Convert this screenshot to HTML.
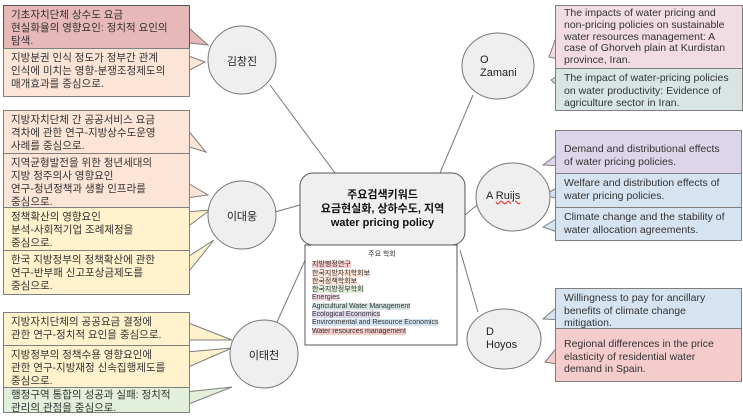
<!DOCTYPE html>
<html><head><meta charset="utf-8"><style>
body{margin:0;width:743px;height:419px;background:#fff;position:relative;overflow:hidden;font-family:"Liberation Sans","Noto Sans CJK KR",sans-serif;}
.b{position:absolute;box-sizing:border-box;border:1px solid #7f7f7f;font-size:10.5px;line-height:13px;color:#333;padding:3px 0 0 7px;white-space:nowrap;}
.r{font-size:10.5px;line-height:12.5px;padding:3px 4px 0 8px;}
.t{position:absolute;font-size:11px;color:#222;text-align:center;}
</style></head><body>
<svg width="743" height="419" style="position:absolute;left:0;top:0">
<rect x="0" y="0" width="743" height="419" fill="#fff"/>
<g stroke="#777" stroke-width="1" fill="none">
<line x1="270" y1="85" x2="335" y2="173"/>
<line x1="275" y1="212" x2="300" y2="205"/>
<line x1="277" y1="322" x2="312" y2="245"/>
<line x1="473" y1="95" x2="440" y2="173"/>
<line x1="477" y1="205" x2="465" y2="215"/>
<line x1="478" y1="312" x2="460" y2="250"/>
</g>
<g stroke="#7f7f7f" stroke-width="1">
<polygon points="180,20 208,45 180,42" fill="#e6b8b7"/>
<polygon points="186,55 205,62 186,72" fill="#fce4d6"/>
<polygon points="186,128 206,152 186,146" fill="#fce4d6"/>
<polygon points="186,182 208,195 186,198" fill="#fce4d6"/>
<polygon points="186,212 210,210 186,228" fill="#fff2cc"/>
<polygon points="186,258 214,240 186,275" fill="#fff2cc"/>
<polygon points="186,322 232,340 186,340" fill="#fff2cc"/>
<polygon points="186,352 232,348 186,368" fill="#fff2cc"/>
<polygon points="186,392 232,387 186,405" fill="#e2efda"/>
<polygon points="563,18 549,57 563,60" fill="#f2dce3"/>
<polygon points="563,72 551,80 563,90" fill="#d9e5e5"/>
<polygon points="563,150 543,165 563,166" fill="#ddd5ea"/>
<polygon points="563,185 543,195 563,200" fill="#d6e4f2"/>
<polygon points="563,215 543,227 563,234" fill="#d6e4f2"/>
<polygon points="563,302 543,319 563,320" fill="#d6e4f2"/>
<polygon points="563,340 545,362 563,365" fill="#f4cccc"/>
</g>
<g fill="#efefef" stroke="#777">
<circle cx="242" cy="60" r="34"/>
<circle cx="242" cy="215" r="34"/>
<circle cx="264" cy="354" r="34"/>
<ellipse cx="498" cy="66" rx="36" ry="33"/>
<ellipse cx="513" cy="197" rx="37" ry="34"/>
<ellipse cx="504" cy="339" rx="37" ry="30"/>
</g>
<rect x="300" y="173" width="165" height="72" rx="13" fill="#efefef" stroke="#555"/>
<rect x="305" y="245" width="152" height="100" fill="#fff" stroke="#555"/>
</svg>

<div class="b" style="left:3px;top:5px;width:187px;height:44px;background:#e6b8b7;border-color:#555">기초자치단체 상수도 요금<br>현실화율의 영향요인: 정치적 요인의<br>탐색.</div>
<div class="b" style="left:3px;top:48px;width:187px;height:49px;background:#fce4d6">지방분권 인식 정도가 정부간 관계<br>인식에 미치는 영향-분쟁조정제도의<br>매개효과를 중심으로.</div>
<div class="b" style="left:3px;top:110px;width:187px;height:44px;background:#fce4d6">지방자치단체 간 공공서비스 요금<br>격차에 관한 연구-지방상수도운영<br>사례를 중심으로.</div>
<div class="b" style="left:3px;top:153px;width:187px;height:55px;background:#fce4d6">지역균형발전을 위한 청년세대의<br>지방 정주의사 영향요인<br>연구-청년정책과 생활 인프라를<br>중심으로.</div>
<div class="b" style="left:3px;top:207px;width:187px;height:44px;background:#fff2cc">정책확산의 영향요인<br>분석-사회적기업 조례제정을<br>중심으로.</div>
<div class="b" style="left:3px;top:250px;width:187px;height:45px;background:#fff2cc">한국 지방정부의 정책확산에 관한<br>연구-반부패 신고포상금제도를<br>중심으로.</div>
<div class="b" style="left:3px;top:312px;width:187px;height:34px;background:#fff2cc">지방자치단체의 공공요금 결정에<br>관한 연구-정치적 요인을 중심으로.</div>
<div class="b" style="left:3px;top:345px;width:187px;height:43px;background:#fff2cc">지방정부의 정책수용 영향요인에<br>관한 연구-지방재정 신속집행제도를<br>중심으로.</div>
<div class="b" style="left:3px;top:387px;width:187px;height:26px;background:#e2efda;padding-top:1px">행정구역 통합의 성공과 실패: 정치적<br>관리의 관점을 중심으로.</div>

<div class="b r" style="left:555px;top:5px;width:188px;height:64px;background:#f2dce3;line-height:11.8px;padding-top:2px">The impacts of water pricing and<br>non-pricing policies on sustainable<br>water resources management: A<br>case of Ghorveh plain at Kurdistan<br>province, Iran.</div>
<div class="b r" style="left:555px;top:68px;width:188px;height:43px;background:#d9e5e5">The impact of water-pricing policies<br>on water productivity: Evidence of<br>agriculture sector in Iran.</div>
<div class="b r" style="left:555px;top:130px;width:187px;height:44px;background:#ddd5ea;padding-top:12px">Demand and distributional effects<br>of water pricing policies.</div>
<div class="b r" style="left:555px;top:173px;width:187px;height:35px;background:#d6e4f2">Welfare and distribution effects of<br>water pricing policies.</div>
<div class="b r" style="left:555px;top:207px;width:187px;height:34px;background:#d6e4f2">Climate change and the stability of<br>water allocation agreements.</div>
<div class="b r" style="left:555px;top:288px;width:187px;height:41px;background:#d6e4f2">Willingness to pay for ancillary<br>benefits of climate change<br>mitigation.</div>
<div class="b r" style="left:555px;top:328px;width:187px;height:54px;background:#f4cccc;padding-top:9px">Regional differences in the price<br>elasticity of residential water<br>demand in Spain.</div>

<div class="t" style="left:208px;top:53px;width:68px">김창진</div>
<div class="t" style="left:208px;top:208px;width:68px">이대웅</div>
<div class="t" style="left:230px;top:347px;width:68px">이태천</div>
<div class="t" style="left:480px;top:54px;text-align:left;line-height:13px">O<br>Zamani</div>
<div class="t" style="left:486px;top:190px;text-align:left">A <span style="text-decoration:underline wavy #e33">Ruijs</span></div>
<div class="t" style="left:486px;top:326px;text-align:left;line-height:13px">D<br>Hoyos</div>

<div style="position:absolute;left:300px;top:188px;width:165px;text-align:center;font-weight:bold;font-size:11px;line-height:14px;color:#111">주요검색키워드<br>요금현실화, 상하수도, 지역<br>water pricing policy</div>
<div style="position:absolute;left:312px;top:251px;width:140px;font-size:7px;line-height:8.3px;color:#333">
<div style="text-align:center;margin-bottom:2px">주요 학회</div>
<span style="background:#f4cccc">지방행정연구</span><br>
<span style="background:#fce4d6">한국지방자치학회보</span><br>
<span style="background:#fce4d6">한국정책학회보</span><br>
<span style="background:#e2efda">한국지방정부학회</span><br>
<span style="background:#f2dce3">Energies</span><br>
<span style="background:#d9e5e5">Agricultural Water Management</span><br>
<span style="background:#ddd5ea">Ecological Economics</span><br>
<span style="background:#d6e4f2">Environmental and Resource Economics</span><br>
<span style="background:#f4cccc">Water resources management</span>
</div>
</body></html>
